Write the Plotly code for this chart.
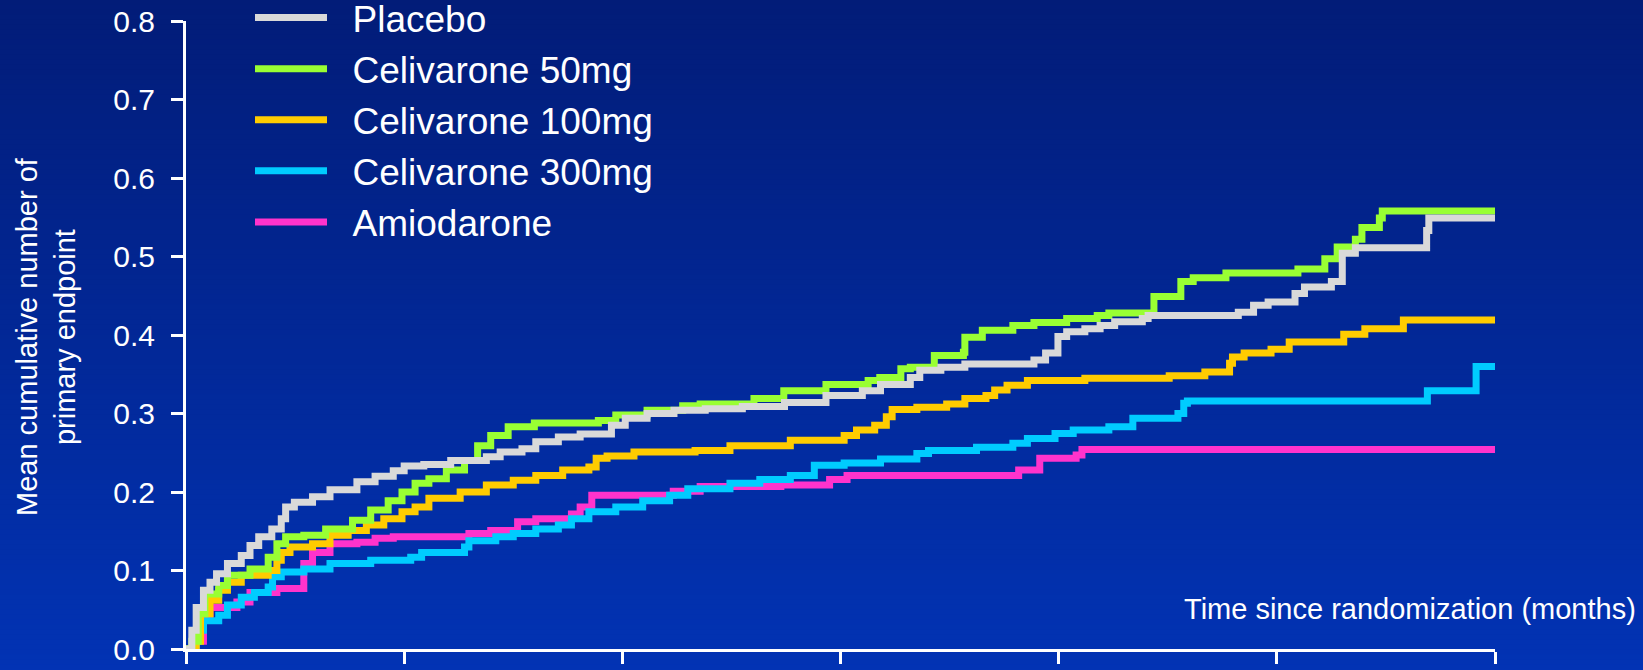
import plotly.graph_objects as go

# ---------------- data ----------------
series_names = ["Placebo", "Celivarone 50mg", "Celivarone 100mg", "Celivarone 300mg", "Amiodarone"]
series_colors = ["#d9d9d9", "#99ff33", "#ffcc00", "#00ccff", "#ff33cc"]

placebo_t = [0, 0.08, 0.14, 0.24, 0.33, 0.42, 0.57, 0.76, 0.88, 1.0, 1.18, 1.31, 1.37, 1.49, 1.74, 1.98,
             2.35, 2.6, 2.85, 3.0, 3.27, 3.64, 4.13, 4.32, 4.62, 4.81, 5.12, 5.42, 5.85, 6.04, 6.34, 6.71,
             7.14, 7.65, 8.23, 8.80, 9.30, 9.55, 9.96, 10.09, 10.38, 10.71, 11.66, 11.82, 11.99, 12.11,
             12.36, 12.57, 12.77, 13.15, 13.23, 14.47, 14.68, 14.88, 15.25, 15.38, 15.75, 15.90, 16.08,
             17.06, 17.09, 18.0]
placebo_v = [0, 0.024, 0.053, 0.075, 0.085, 0.096, 0.109, 0.119, 0.132, 0.143, 0.153, 0.166, 0.181, 0.187, 0.194, 0.203,
             0.213, 0.220, 0.227, 0.233, 0.235, 0.240, 0.245, 0.251, 0.255, 0.264, 0.270, 0.274, 0.285, 0.294, 0.300, 0.304,
             0.306, 0.309, 0.314, 0.323, 0.329, 0.337, 0.346, 0.355, 0.359, 0.363, 0.368, 0.377, 0.398, 0.404,
             0.408, 0.412, 0.417, 0.421, 0.425, 0.429, 0.438, 0.442, 0.453, 0.461, 0.468, 0.504, 0.511,
             0.533, 0.549, 0.549]

cel50_t = [0, 0.08, 0.17, 0.26, 0.45, 0.57, 0.88, 1.13, 1.25, 1.37, 1.62, 1.92, 2.29, 2.54, 2.78, 2.97,
           3.15, 3.34, 3.58, 3.83, 4.01, 4.19, 4.43, 4.79, 5.67, 5.91, 6.34, 6.83, 7.07, 7.81, 8.22, 8.80,
           9.38, 9.54, 9.83, 9.96, 10.29, 10.69, 10.71, 10.95, 11.37, 11.66, 12.11, 12.53, 12.69, 13.31,
           13.68, 13.85, 14.30, 15.29, 15.66, 15.83, 16.08, 16.17, 16.41, 16.45, 18.0]
cel50_v = [0, 0.01, 0.045, 0.070, 0.081, 0.094, 0.102, 0.117, 0.134, 0.143, 0.145, 0.153, 0.164, 0.177, 0.189, 0.200,
           0.211, 0.217, 0.228, 0.240, 0.259, 0.272, 0.283, 0.288, 0.291, 0.298, 0.304, 0.310, 0.312, 0.319, 0.329, 0.337,
           0.342, 0.346, 0.357, 0.359, 0.374, 0.378, 0.397, 0.406, 0.412, 0.416, 0.421, 0.425, 0.428, 0.449,
           0.468, 0.473, 0.479, 0.484, 0.497, 0.512, 0.522, 0.537, 0.549, 0.558, 0.558]

cel100_t = [0, 0.14, 0.2, 0.33, 0.45, 0.57, 0.76, 1.13, 1.25, 1.31, 1.43, 1.74, 1.98, 2.23, 2.48, 2.72,
            2.97, 3.15, 3.34, 3.77, 4.13, 4.5, 4.81, 5.18, 5.54, 5.64, 5.79, 6.16, 7.0, 7.48, 8.31, 9.05,
            9.22, 9.47, 9.63, 9.71, 10.05, 10.46, 10.71, 11.0, 11.12, 11.29, 11.57, 12.36, 13.52, 14.01,
            14.35, 14.39, 14.55, 14.92, 15.17, 15.92, 16.21, 16.74, 18.0]
cel100_v = [0, 0.01, 0.045, 0.062, 0.075, 0.085, 0.094, 0.100, 0.113, 0.123, 0.130, 0.134, 0.145, 0.151, 0.158, 0.166,
            0.175, 0.181, 0.192, 0.200, 0.209, 0.215, 0.221, 0.228, 0.232, 0.243, 0.246, 0.251, 0.253, 0.259, 0.266, 0.272,
            0.279, 0.285, 0.296, 0.305, 0.308, 0.312, 0.319, 0.323, 0.330, 0.336, 0.342, 0.345, 0.348, 0.353,
            0.364, 0.372, 0.377, 0.382, 0.391, 0.401, 0.408, 0.419, 0.419]

cel300_t = [0, 0.14, 0.24, 0.45, 0.57, 0.76, 0.94, 1.13, 1.19, 1.31, 1.62, 1.98, 2.54, 3.09, 3.24, 3.83,
            3.89, 4.26, 4.5, 4.81, 5.12, 5.3, 5.54, 5.91, 6.28, 6.65, 6.9, 7.48, 7.89, 8.31, 8.64, 9.05,
            9.55, 10.05, 10.21, 10.87, 11.37, 11.57, 11.95, 12.2, 12.69, 13.02, 13.64, 13.72, 13.77, 17.07,
            17.74, 18.0]
cel300_v = [0, 0.024, 0.036, 0.043, 0.056, 0.066, 0.072, 0.079, 0.092, 0.098, 0.102, 0.109, 0.113, 0.117, 0.123, 0.130,
            0.138, 0.143, 0.147, 0.153, 0.158, 0.166, 0.175, 0.181, 0.189, 0.196, 0.204, 0.211, 0.216, 0.221, 0.234, 0.237,
            0.242, 0.249, 0.253, 0.257, 0.262, 0.268, 0.2745, 0.279, 0.283, 0.294, 0.300, 0.313, 0.316, 0.329,
            0.360, 0.360]

amio_t = [0, 0.14, 0.24, 0.33, 0.7, 0.88, 1.25, 1.62, 1.74, 1.98, 2.35, 2.6, 2.85, 3.89, 4.19, 4.56,
          4.81, 5.3, 5.42, 5.58, 6.7, 7.07, 8.18, 8.85, 9.09, 11.45, 11.74, 12.24, 12.32, 18.0]
amio_v = [0, 0.01, 0.041, 0.053, 0.060, 0.072, 0.077, 0.109, 0.123, 0.134, 0.136, 0.141, 0.143, 0.147, 0.151, 0.162,
          0.166, 0.172, 0.181, 0.196, 0.201, 0.207, 0.209, 0.216, 0.221, 0.228, 0.243, 0.247, 0.254, 0.254]

series_t = [placebo_t, cel50_t, cel100_t, cel300_t, amio_t]
series_v = [placebo_v, cel50_v, cel100_v, cel300_v, amio_v]

y_ticks = [0.0, 0.1, 0.2, 0.3, 0.4, 0.5, 0.6, 0.7, 0.8]
x_ticks = [0, 3, 6, 9, 12, 15, 18]

y_title = "Mean cumulative number of<br>primary endpoint"
x_title = "Time since randomization (months)"

# ---------------- figure ----------------
W, H = 1643, 670
M_L, M_R, M_T, M_B = 186, 148, 21, 21
plot_h = H - M_T - M_B
plot_w = W - M_L - M_R
FONT = "Liberation Sans, Arial, Helvetica, sans-serif"

fig = go.Figure()
# draw in reverse so Placebo ends up on top; legend keeps original order
for i in reversed(range(len(series_names))):
    fig.add_trace(go.Scatter(
        x=series_t[i], y=series_v[i], mode="lines", name="\u00a0\u00a0" + series_names[i],
        line=dict(color=series_colors[i], width=7, shape="hv"),
        legendrank=i + 1, hoverinfo="skip",
    ))

# vertical gradient background made of thin bands
top_rgb = (2, 28, 120)
bot_rgb = (2, 51, 180)
nb = 134
shapes = []
for k in range(nb):
    y0px = k * H / nb
    y1px = (k + 1) * H / nb
    f = (k + 0.5) / nb
    c = tuple(round(top_rgb[j] + (bot_rgb[j] - top_rgb[j]) * f) for j in range(3))
    shapes.append(dict(
        type="rect", xref="paper", yref="paper", layer="below",
        x0=-M_L / plot_w - 0.01, x1=(W - M_L) / plot_w + 0.01,
        y0=(H - M_B - y1px) / plot_h - 0.001, y1=(H - M_B - y0px) / plot_h + 0.001,
        line=dict(width=0), fillcolor="rgb(%d,%d,%d)" % c,
    ))

fig.update_layout(
    width=W, height=H,
    margin=dict(l=M_L, r=M_R, t=M_T, b=M_B, autoexpand=False),
    paper_bgcolor="rgb(2,28,120)",
    plot_bgcolor="rgba(0,0,0,0)",
    font=dict(family=FONT, color="white", size=29),
    shapes=shapes,
    showlegend=True,
    legend=dict(
        x=(250 - M_L) / plot_w, xanchor="left",
        y=(H - M_B + 13) / plot_h, yanchor="top",
        bgcolor="rgba(0,0,0,0)", borderwidth=0,
        font=dict(family=FONT, size=37, color="white"),
        itemwidth=72, tracegroupgap=0,
    ),
    xaxis=dict(
        range=[0, 18], tickvals=x_ticks, showticklabels=False,
        showline=True, linecolor="white", linewidth=3,
        ticks="outside", ticklen=12, tickwidth=3, tickcolor="white",
        showgrid=False, zeroline=False, fixedrange=True,
    ),
    yaxis=dict(
        range=[0, 0.8], tickvals=y_ticks, ticktext=["%.1f" % v for v in y_ticks],
        showline=True, linecolor="white", linewidth=3,
        ticks="outside", ticklen=12, tickwidth=3, tickcolor="white",
        tickfont=dict(family=FONT, size=30, color="white"),
        ticklabelstandoff=10,
        showgrid=False, zeroline=False, fixedrange=True,
    ),
    annotations=[
        dict(text=y_title, textangle=-90, xref="paper", yref="paper",
             x=(46 - M_L) / plot_w, y=(H - M_B - 337) / plot_h,
             xanchor="center", yanchor="middle", showarrow=False,
             font=dict(family=FONT, size=29, color="white")),
        dict(text=x_title, xref="paper", yref="paper",
             x=(1638 - M_L) / plot_w, y=(H - M_B - 609) / plot_h,
             xanchor="right", yanchor="middle", showarrow=False,
             font=dict(family=FONT, size=29, color="white")),
    ],
)

fig.write_html(
    "out.html",
    config={"displayModeBar": False, "staticPlot": True},
    post_script="document.body.style.margin='0';document.body.style.padding='0';"
                "document.body.style.overflow='hidden';",
)
